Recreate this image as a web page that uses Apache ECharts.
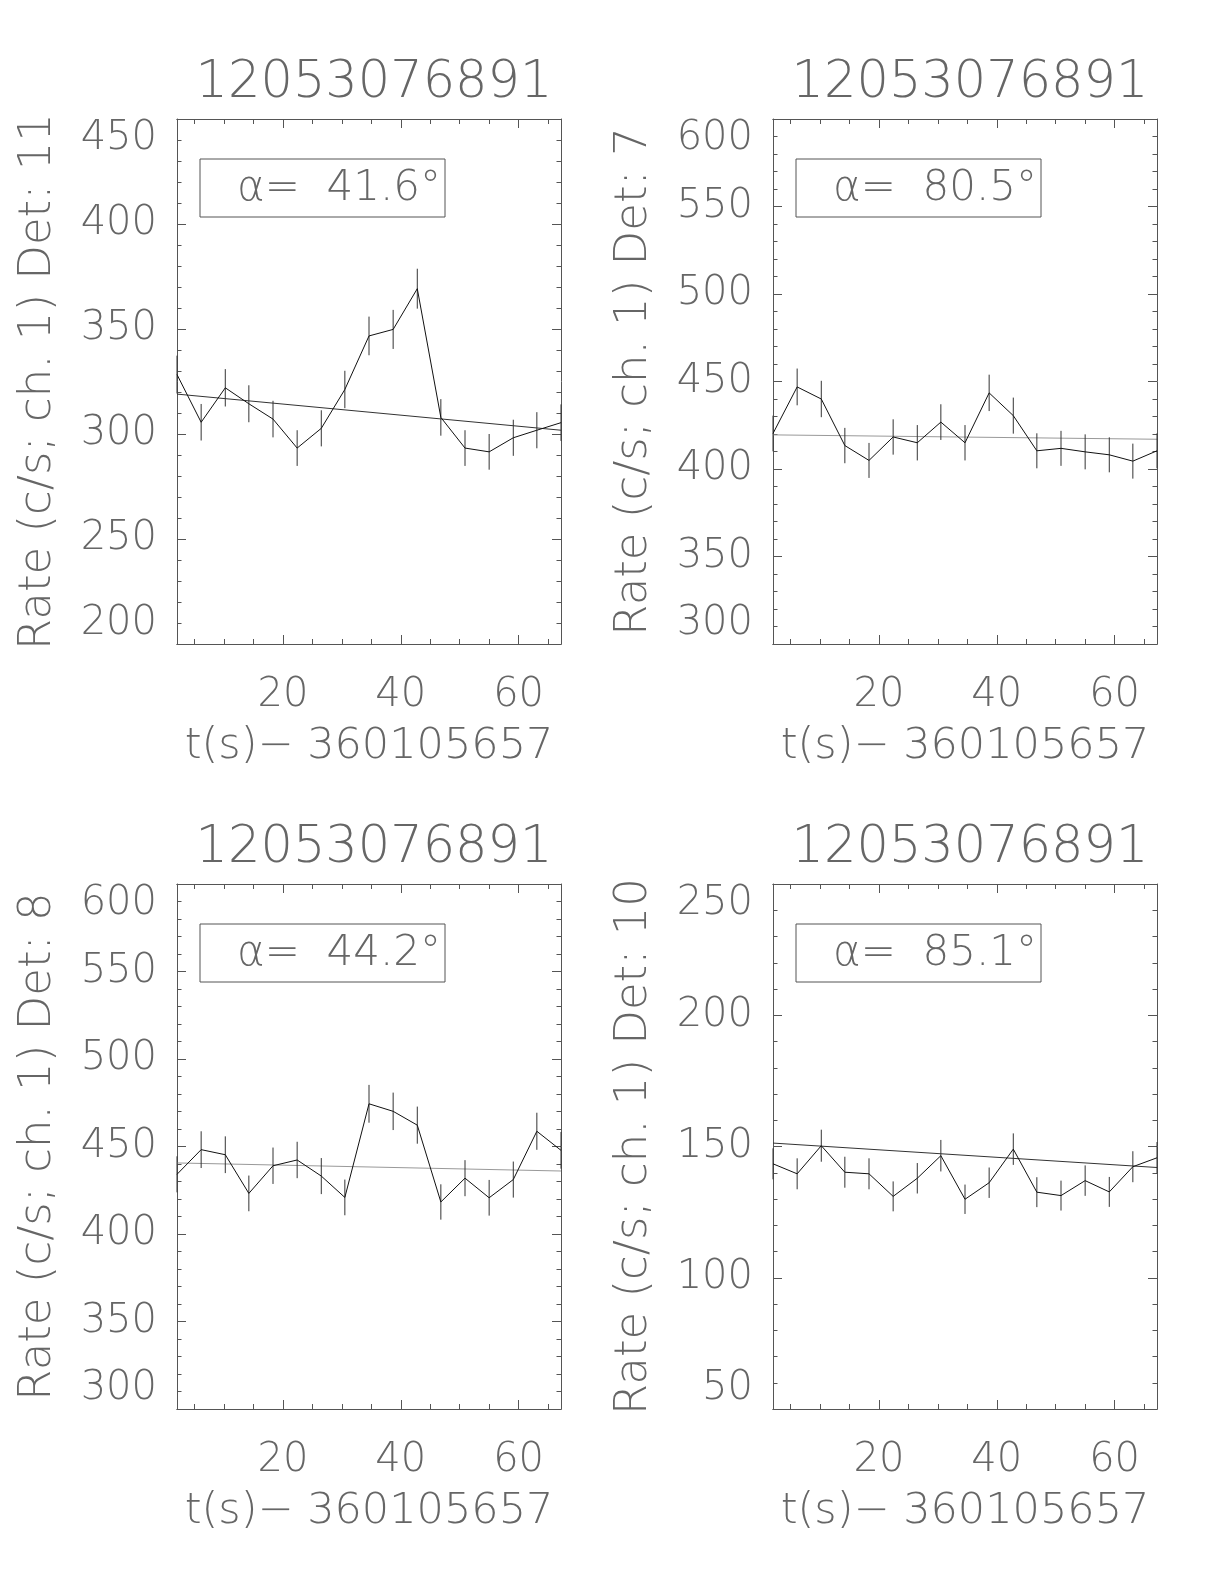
<!DOCTYPE html>
<html>
<head>
<meta charset="utf-8">
<script src="https://cdn.jsdelivr.net/npm/echarts@6/dist/echarts.min.js"></script>
<style>
  html, body { margin: 0; padding: 0; background: #fff; }
  #chart { width: 1224px; height: 1584px; }
</style>
</head>
<body>
<div id="chart"></div>
<script>
// ---- data ----
const times = [2.0, 6.1, 10.2, 14.2, 18.3, 22.4, 26.5, 30.5, 34.6, 38.7, 42.8, 46.8, 50.9, 55.0, 59.1, 63.1, 67.2];
const xMajorTicks = [20, 40, 60];
const xMinorTicks = [5, 10, 15, 25, 30, 35, 45, 50, 55, 65];
const panelTitle = '12053076891';
const xAxisName = 't(s)\u2212 360105657';

const det11Rate = [328.3, 305.6, 322.0, 314.4, 307.1, 293.3, 302.7, 321.2, 346.7, 349.8, 369.2, 307.9, 293.3, 291.5, 298.2, 301.8, 305.4];
const det11Err  = [9.0, 8.7, 8.9, 8.8, 8.7, 8.5, 8.6, 8.9, 9.2, 9.3, 9.5, 8.7, 8.5, 8.5, 8.6, 8.6, 8.7];
const det11Fit  = [319.0, 301.8];

const det7Rate = [420.3, 446.9, 440.0, 413.4, 404.9, 418.3, 415.0, 426.8, 415.0, 443.5, 430.5, 410.4, 411.8, 409.8, 408.1, 404.5, 410.4];
const det7Err  = [10.2, 10.5, 10.4, 10.1, 10.0, 10.1, 10.1, 10.2, 10.1, 10.4, 10.3, 10.0, 10.0, 10.0, 10.0, 10.0, 10.0];
const det7Fit  = [419.5, 417.0];

const det8Rate = [434.1, 448.2, 445.3, 423.2, 439.0, 442.3, 433.1, 420.9, 474.4, 470.1, 462.2, 418.3, 431.9, 420.7, 431.1, 458.7, 447.8];
const det8Err  = [10.3, 10.5, 10.5, 10.2, 10.4, 10.4, 10.3, 10.2, 10.8, 10.7, 10.6, 10.1, 10.3, 10.2, 10.3, 10.6, 10.5];
const det8Fit  = [440.6, 436.0];

const det10Rate = [143.4, 139.6, 150.3, 140.2, 139.6, 131.0, 137.9, 146.5, 129.9, 136.2, 149.0, 132.6, 131.3, 137.0, 132.7, 142.3, 145.7];
const det10Err  = [5.9, 5.9, 6.1, 5.9, 5.9, 5.7, 5.8, 6.0, 5.6, 5.8, 6.0, 5.7, 5.7, 5.8, 5.7, 5.9, 6.0];
const det10Fit  = [151.3, 142.0];

const yNames = ['Rate (c/s; ch. 1) Det: 11', 'Rate (c/s; ch. 1) Det: 7', 'Rate (c/s; ch. 1) Det: 8', 'Rate (c/s; ch. 1) Det: 10'];
const yRanges = [[200, 450], [300, 600], [300, 600], [50, 250]];
const yStep = 50;
const alphaTexts = ['\u03b1=  41.6\u00b0', '\u03b1=  80.5\u00b0', '\u03b1=  44.2\u00b0', '\u03b1=  85.1\u00b0'];

// ---- build ----
const FONT = '"DejaVu Sans ExtraLight", "DejaVu Sans"';
const TXT = '#666';
const AX = '#555';
const panels = [
  { rate: det11Rate, err: det11Err, fit: det11Fit, fitColor: '#333' },
  { rate: det7Rate,  err: det7Err,  fit: det7Fit,  fitColor: '#999' },
  { rate: det8Rate,  err: det8Err,  fit: det8Fit,  fitColor: '#999' },
  { rate: det10Rate, err: det10Err, fit: det10Fit, fitColor: '#333' }
];
const boxes = [ {left: 177, top: 119}, {left: 773, top: 119}, {left: 177, top: 884}, {left: 773, top: 884} ];
const W = 384, H = 525;

const grid = [], xAxis = [], yAxis = [], series = [], title = [], graphic = [];
const xMin = times[0], xMax = times[times.length - 1];

panels.forEach((p, i) => {
  const b = boxes[i];
  grid.push({ left: b.left, top: b.top, width: W, height: H, containLabel: false });
  title.push({
    text: panelTitle, left: b.left + W / 2, top: b.top - 66, textAlign: 'center',
    textStyle: { fontFamily: FONT, fontWeight: 200, fontSize: 51, color: TXT }
  });
  const lineS = { show: true, onZero: false, lineStyle: { color: AX, width: 1 } };
  const mk = (pos, major) => ({
    type: 'value', gridIndex: i, position: pos, min: xMin, max: xMax,
    axisLine: lineS,
    splitLine: { show: false },
    axisTick: { show: true, inside: true, length: major ? 9 : 5, lineStyle: { color: AX, width: 1 },
      customValues: major ? xMajorTicks : xMinorTicks },
    axisLabel: (pos === 'bottom' && major) ? {
      show: true, customValues: xMajorTicks, margin: 32,
      fontFamily: FONT, fontWeight: 200, fontSize: 40, color: TXT
    } : { show: false },
    name: (pos === 'bottom' && major) ? xAxisName : '',
    nameLocation: 'middle', nameGap: 81,
    nameTextStyle: { fontFamily: FONT, fontWeight: 200, fontSize: 43, color: TXT }
  });
  xAxis.push(mk('bottom', true), mk('bottom', false), mk('top', true), mk('top', false));
  const [ymin, ymax] = yRanges[i];
  const mky = (pos) => ({
    type: 'value', gridIndex: i, position: pos, min: ymin, max: ymax, interval: yStep,
    axisLine: lineS,
    splitLine: { show: false },
    axisTick: { show: true, inside: true, length: 9, lineStyle: { color: AX, width: 1 } },
    minorTick: { show: true, splitNumber: 5, length: 4.5, lineStyle: { color: AX, width: 1 } },
    minorSplitLine: { show: false },
    axisLabel: pos === 'left' ? {
      show: true, margin: 20, fontFamily: FONT, fontWeight: 200, fontSize: 40, color: TXT,
      verticalAlignMinLabel: 'bottom', verticalAlignMaxLabel: 'top'
    } : { show: false },
    name: pos === 'left' ? yNames[i] : '',
    nameLocation: 'middle', nameGap: 116,
    nameTextStyle: { fontFamily: FONT, fontWeight: 200, fontSize: 45, color: TXT }
  });
  yAxis.push(mky('left'), mky('right'));

  const xi = 4 * i, yi = 2 * i;
  series.push({
    type: 'line', xAxisIndex: xi, yAxisIndex: yi, symbol: 'none', silent: true,
    lineStyle: { color: '#111', width: 1 },
    data: times.map((t, k) => [t, p.rate[k]]), z: 3
  });
  series.push({
    type: 'line', xAxisIndex: xi, yAxisIndex: yi, symbol: 'none', silent: true,
    lineStyle: { color: p.fitColor, width: 1 },
    data: [[xMin, p.fit[0]], [xMax, p.fit[1]]], z: 2
  });
  series.push({
    type: 'custom', xAxisIndex: xi, yAxisIndex: yi, silent: true,
    data: times.map((t, k) => [t, p.rate[k] - p.err[k], p.rate[k] + p.err[k]]),
    encode: { x: 0, y: [1, 2] },
    renderItem: (params, api) => {
      const a = api.coord([api.value(0), api.value(1)]);
      const c = api.coord([api.value(0), api.value(2)]);
      return { type: 'line', shape: { x1: a[0], y1: a[1], x2: c[0], y2: c[1] },
        style: { stroke: '#333', lineWidth: 1 } };
    }, z: 3
  });

  graphic.push({
    type: 'rect', shape: { x: b.left + 23, y: b.top + 40, width: 245, height: 58 },
    style: { fill: 'none', stroke: AX, lineWidth: 1 }
  });
  graphic.push({
    type: 'text', x: b.left + 60, y: b.top + 70,
    style: { text: alphaTexts[i], fontFamily: FONT, fontWeight: 200, fontSize: 42, fill: TXT,
      textAlign: 'left', textVerticalAlign: 'middle' }
  });
});

const chart = echarts.init(document.getElementById('chart'), null, { renderer: 'canvas' });
chart.setOption({
  animation: false,
  backgroundColor: '#fff',
  title, grid, xAxis, yAxis, series, graphic
});
</script>
</body>
</html>
